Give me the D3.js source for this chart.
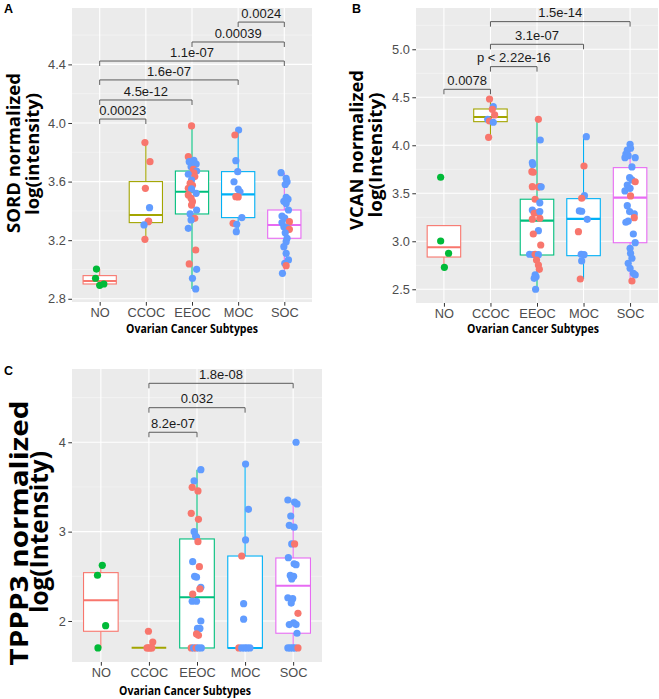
<!DOCTYPE html>
<html><head><meta charset="utf-8">
<script src="https://cdn.jsdelivr.net/npm/d3@7"></script>
<style>body{margin:0;background:#fff}</style>
</head><body><svg id="chart" width="659" height="699"></svg>
<script>
// ---------- DATA ----------
const categories = ["NO","CCOC","EEOC","MOC","SOC"];
// each point: [value, colour group (r/g/b), horizontal jitter in category steps]
const sordNO = [[3.003,"g",-0.07],[2.940,"g",-0.09],[2.892,"g",0.0],[2.901,"g",0.09]];
const sordCCOC = [[3.866,"r",-0.02],[3.736,"r",0.09],[3.554,"r",-0.01],[3.422,"b",0.08],[3.330,"r",0.06],[3.326,"r",0.05],[3.304,"b",-0.04],[3.206,"r",-0.02]];
const sordEEOC = [[3.980,"r",-0.01],[3.770,"r",-0.08],[3.745,"b",0.04],[3.736,"b",-0.06],[3.720,"b",0.09],[3.702,"b",-0.02],[3.684,"r",0.03],[3.672,"b",0.10],[3.660,"r",0.04],[3.650,"b",-0.08],[3.634,"r",0.06],[3.611,"b",-0.01],[3.588,"r",-0.04],[3.575,"r",0.01],[3.554,"r",-0.08],[3.550,"b",-0.01],[3.520,"b",0.09],[3.509,"r",-0.08],[3.486,"r",-0.02],[3.463,"r",0.01],[3.440,"r",-0.01],[3.406,"b",0.10],[3.379,"b",-0.04],[3.349,"r",0.06],[3.338,"b",-0.02],[3.281,"b",-0.08],[3.133,"r",0.08],[3.038,"r",-0.06],[3.001,"b",0.10],[2.940,"b",0.01],[2.867,"b",0.08]];
const sordMOC = [[3.952,"b",0.01],[3.918,"r",-0.07],[3.743,"b",-0.05],[3.668,"b",-0.01],[3.599,"b",-0.09],[3.549,"b",0.0],[3.530,"b",0.04],[3.497,"r",-0.05],[3.495,"r",0.0],[3.354,"b",0.08],[3.315,"r",-0.11],[3.308,"b",-0.03],[3.258,"b",-0.04]];
const sordSOC = [[3.661,"b",-0.07],[3.622,"b",0.04],[3.599,"b",0.06],[3.580,"b",0.02],[3.493,"b",0.04],[3.480,"b",0.08],[3.465,"b",-0.01],[3.450,"b",0.04],[3.406,"b",0.09],[3.365,"b",-0.05],[3.350,"b",0.01],[3.326,"r",0.11],[3.320,"b",-0.05],[3.292,"b",-0.01],[3.285,"b",0.06],[3.274,"r",0.11],[3.250,"b",0.02],[3.213,"b",0.06],[3.190,"b",0.04],[3.156,"b",-0.01],[3.110,"b",0.04],[3.065,"b",0.09],[3.042,"b",0.01],[3.026,"r",0.04],[2.974,"b",-0.04]];
// box stats per category: [lower whisker, Q1, median, Q3, upper whisker]
const sordBox = [[2.892,2.901,2.921,2.958,3.003],[3.206,3.32,3.372,3.60,3.866],[2.867,3.379,3.531,3.672,3.98],[3.258,3.354,3.513,3.668,3.952],[2.974,3.213,3.304,3.406,3.661]];
const sordBrackets = [["NO","CCOC","0.00023",4.027],["NO","EEOC","4.5e-12",4.157],["NO","MOC","1.6e-07",4.294],["NO","SOC","1.1e-07",4.423],["EEOC","SOC","0.00039",4.553],["MOC","SOC","0.0024",4.689]];
const sordTicks = [2.8,3.2,3.6,4.0,4.4];
const sordTickLabels = ["2.8","3.2","3.6","4.0","4.4"];

const vcanNO = [[3.667,"g",-0.07],[3.003,"g",-0.07],[2.875,"g",0.10],[2.729,"g",0.01]];
const vcanCCOC = [[4.482,"r",-0.02],[4.402,"b",0.06],[4.375,"r",0.04],[4.316,"r",0.09],[4.271,"b",-0.06],[4.253,"r",-0.02],[4.240,"b",0.06],[4.083,"r",-0.04]];
const vcanEEOC = [[4.27,"r",0.03],[4.055,"b",0.07],[3.82,"b",-0.10],[3.80,"b",-0.09],[3.725,"r",-0.11],[3.719,"r",-0.08],[3.569,"r",-0.10],[3.565,"r",0.03],[3.57,"r",0.06],[3.567,"b",0.09],[3.438,"r",-0.04],[3.40,"b",0.06],[3.326,"b",-0.10],[3.292,"r",-0.06],[3.30,"r",0.03],[3.31,"b",0.06],[3.23,"r",-0.10],[3.24,"r",0.06],[3.11,"b",0.03],[3.076,"r",-0.08],[2.961,"r",0.08],[2.865,"b",-0.16],[2.862,"b",-0.08],[2.865,"r",-0.04],[2.86,"b",0.03],[2.805,"r",-0.01],[2.753,"r",0.03],[2.708,"r",0.05],[2.649,"b",-0.04],[2.63,"b",-0.02],[2.614,"b",-0.06],[2.50,"b",-0.03]];
const vcanMOC = [[4.09,"b",0.06],[3.784,"r",0.01],[3.475,"b",0.02],[3.448,"r",-0.04],[3.316,"b",-0.09],[3.313,"b",-0.04],[3.229,"b",0.08],[3.10,"r",-0.11],[2.865,"b",-0.05],[2.86,"b",0.01],[2.795,"b",-0.04],[2.607,"r",-0.07]];
const vcanSOC = [[4.01,"b",0],[3.969,"b",0.01],[3.951,"b",-0.06],[3.909,"b",-0.09],[3.892,"b",-0.04],[3.871,"b",-0.11],[3.871,"b",0.11],[3.774,"b",0.04],[3.663,"b",-0.01],[3.639,"b",0.04],[3.62,"r",0.11],[3.586,"b",-0.06],[3.552,"b",0],[3.524,"b",-0.11],[3.472,"r",0.01],[3.371,"b",-0.06],[3.309,"b",-0.01],[3.285,"b",0.09],[3.246,"r",0.09],[3.211,"b",-0.04],[3.198,"b",-0.09],[3.076,"b",0.07],[2.985,"b",0.11],[2.927,"b",0],[2.875,"b",0.01],[2.823,"b",0.04],[2.771,"b",-0.04],[2.719,"b",0],[2.667,"b",0.07],[2.649,"b",0.11],[2.586,"r",0.04]];
const vcanBox = [[2.729,2.836,2.938,3.163,3.163],[4.083,4.246,4.295,4.378,4.482],[2.5,2.857,3.215,3.438,4.27],[2.607,2.85,3.233,3.444,4.09],[2.586,2.985,3.455,3.767,4.01]];
const vcanBrackets = [["NO","CCOC","0.0078",4.583],["CCOC","EEOC","p < 2.22e-16",4.819],["CCOC","MOC","3.1e-07",5.052],["CCOC","SOC","1.5e-14",5.288]];
const vcanTicks = [2.5,3.0,3.5,4.0,4.5,5.0];
const vcanTickLabels = ["2.5","3.0","3.5","4.0","4.5","5.0"];

const tpppNO = [[2.623,"g",0.03],[2.512,"g",-0.07],[1.948,"g",0.10],[1.698,"g",-0.06]];
const tpppCCOC = [[1.885,"r",-0.01],[1.765,"r",0.08],[1.698,"r",-0.04],[1.698,"r",0.03],[1.698,"r",0.06],[1.698,"r",-0.01]];
const tpppEEOC = [[3.693,"b",0.08],[3.567,"b",-0.06],[3.496,"r",-0.10],[3.455,"r",0.02],[3.205,"r",-0.12],[3.138,"r",0.03],[3.0,"b",-0.06],[2.95,"b",-0.03],[2.94,"b",-0.01],[2.888,"r",0.02],[2.664,"b",-0.09],[2.608,"r",0.05],[2.50,"b",-0.05],[2.49,"b",-0.01],[2.377,"b",0.08],[2.359,"r",0.06],[2.30,"r",-0.09],[2.221,"b",-0.10],[2.221,"b",-0.01],[2.0,"b",0.08],[1.917,"b",0.01],[1.917,"b",0.06],[1.855,"r",-0.01],[1.84,"r",0.03],[1.698,"r",-0.12],[1.698,"b",-0.07],[1.698,"r",-0.02],[1.698,"b",0.03],[1.698,"b",0.09]];
const tpppMOC = [[3.757,"b",0.01],[3.25,"b",0.07],[2.907,"b",0.01],[2.727,"r",-0.07],[2.194,"b",-0.03],[2.02,"b",-0.03],[1.698,"r",-0.13],[1.698,"b",-0.07],[1.698,"b",-0.01],[1.698,"b",0.04],[1.698,"b",0.10]];
const tpppSOC = [[4.0,"b",0.06],[3.354,"b",-0.11],[3.33,"b",0.03],[3.31,"b",0.08],[3.175,"b",-0.05],[3.07,"b",-0.08],[3.05,"b",0.02],[2.862,"b",-0.03],[2.862,"r",0.03],[2.709,"b",-0.10],[2.64,"b",0.02],[2.63,"b",0.06],[2.51,"b",-0.06],[2.50,"b",0.01],[2.47,"b",-0.03],[2.26,"b",-0.11],[2.25,"b",-0.01],[2.20,"b",-0.04],[2.086,"r",0.10],[1.98,"b",0.01],[1.96,"b",0.06],[1.96,"b",-0.08],[1.863,"b",0.08],[1.698,"b",-0.11],[1.698,"b",-0.06],[1.698,"b",-0.01],[1.698,"b",0.04],[1.698,"r",0.10]];
const tpppBox = [[1.698,1.885,2.232,2.541,2.623],[1.70,1.70,1.70,1.70,1.70],[1.698,1.698,2.265,2.918,3.693],[1.698,1.698,1.698,2.727,3.757],[1.698,1.863,2.395,2.705,3.354]];
const tpppBrackets = [["CCOC","EEOC","8.2e-07",4.112],["CCOC","MOC","0.032",4.387],["CCOC","SOC","1.8e-08",4.66]];
const tpppTicks = [2,3,4];
const tpppTickLabels = ["2","3","4"];

const xTitle = "Ovarian Cancer Subtypes";

// ---------- STYLE ----------
const pointColors = {r:"#F8766D", g:"#00BA38", b:"#619CFF"};
const boxColors = ["#F8766D","#A3A500","#00BF7D","#00B0F6","#E76BF3"];
const tickFont = "'Liberation Sans', Arial, sans-serif";
const titleFont = "'Open Sans', 'Noto Sans', sans-serif";

const svg = d3.select("#chart");

function drawPanel(cfg){
  const g = svg.append("g");
  const x = d3.scalePoint().domain(categories).range([cfg.x0, cfg.x1]).padding(0.6);
  const y = d3.scaleLinear().domain(cfg.domain).range([cfg.y1, cfg.y0]);
  const step = x.step();

  g.append("rect").attr("x",cfg.x0).attr("y",cfg.y0)
    .attr("width",cfg.x1-cfg.x0).attr("height",cfg.y1-cfg.y0).attr("fill","#EBEBEB");

  // minor grid
  const half = (cfg.ticks[1]-cfg.ticks[0])/2;
  const minor = cfg.ticks.map(t=>t+half).concat([cfg.ticks[0]-half]);
  g.selectAll(".minor").data(minor.filter(v=>v>cfg.domain[0]&&v<cfg.domain[1])).join("line")
    .attr("x1",cfg.x0).attr("x2",cfg.x1).attr("y1",d=>y(d)).attr("y2",d=>y(d))
    .attr("stroke","#F7F7F7").attr("stroke-width",0.6);
  g.selectAll(".major").data(cfg.ticks).join("line")
    .attr("x1",cfg.x0).attr("x2",cfg.x1).attr("y1",d=>y(d)).attr("y2",d=>y(d))
    .attr("stroke","#FFFFFF").attr("stroke-width",1.1);
  g.selectAll(".vmajor").data(categories).join("line")
    .attr("x1",d=>x(d)).attr("x2",d=>x(d)).attr("y1",cfg.y0).attr("y2",cfg.y1)
    .attr("stroke","#FFFFFF").attr("stroke-width",1.1);

  // boxes
  const bw = step*0.72;
  cfg.box.forEach((b,i)=>{
    const cx = x(categories[i]); const col = boxColors[i];
    g.append("line").attr("x1",cx).attr("x2",cx).attr("y1",y(b[0])).attr("y2",y(b[1]))
      .attr("stroke",col).attr("stroke-width",1.1);
    g.append("line").attr("x1",cx).attr("x2",cx).attr("y1",y(b[3])).attr("y2",y(b[4]))
      .attr("stroke",col).attr("stroke-width",1.1);
    g.append("rect").attr("x",cx-bw/2).attr("width",bw)
      .attr("y",y(b[3])).attr("height",Math.max(0,y(b[1])-y(b[3])))
      .attr("fill","#FFFFFF").attr("stroke",col).attr("stroke-width",1.1);
    g.append("line").attr("x1",cx-bw/2).attr("x2",cx+bw/2).attr("y1",y(b[2])).attr("y2",y(b[2]))
      .attr("stroke",col).attr("stroke-width",2.1);
  });

  // points
  cfg.points.forEach((pts,i)=>{
    const cx = x(categories[i]);
    g.selectAll(null).data(pts).join("circle")
      .attr("cx",d=>cx + d[2]*step).attr("cy",d=>y(d[0])).attr("r",3.6)
      .attr("fill",d=>pointColors[d[1]]);
  });

  // brackets
  cfg.brackets.forEach(br=>{
    const xa = x(br[0]), xb = x(br[1]), yy = y(br[3]);
    g.append("path").attr("d",`M${xa},${yy+5}V${yy}H${xb}V${yy+5}`)
      .attr("fill","none").attr("stroke","#5A5A5A").attr("stroke-width",1);
    g.append("text").attr("x",(xa+xb)/2).attr("y",yy-4.3).attr("text-anchor","middle")
      .attr("font-family",tickFont).attr("font-size",13).attr("fill","#1A1A1A").text(br[2]);
  });

  // axes
  const ya = d3.axisLeft(y).tickValues(cfg.ticks).tickFormat((d,i)=>cfg.tickLabels[i]).tickSize(3.7).tickPadding(2.5);
  const ag = g.append("g").attr("transform",`translate(${cfg.x0},0)`).call(ya);
  const xa = d3.axisBottom(x).tickSize(3.7).tickPadding(2.5);
  const bg = g.append("g").attr("transform",`translate(0,${cfg.y1})`).call(xa);
  [ag,bg].forEach(a=>{
    a.select(".domain").remove();
    a.selectAll(".tick line").attr("stroke","#333333").attr("stroke-width",1);
    a.selectAll(".tick text").attr("fill","#4D4D4D").attr("font-family",tickFont).attr("font-size",12.8);
  });

  // titles
  g.append("text").attr("x",cfg.xt[0]).attr("y",cfg.xt[1]).attr("text-anchor","middle")
    .attr("font-family",titleFont).attr("font-weight",700).attr("font-size",12.5)
    .attr("textLength",132).attr("lengthAdjust","spacingAndGlyphs").attr("fill","#000").text(xTitle);
  cfg.yt.forEach(t=>{
    g.append("text").attr("transform",`translate(${t.x},${t.cy}) rotate(-90)`)
      .attr("text-anchor","middle").attr("font-family",titleFont).attr("font-weight",700)
      .attr("font-size",t.fs).attr("textLength",t.len).attr("lengthAdjust","spacingAndGlyphs")
      .attr("fill","#000").text(t.text);
  });
  svg.append("text").attr("x",cfg.lab[0]).attr("y",cfg.lab[1]).attr("font-family",tickFont)
    .attr("font-weight",700).attr("font-size",12.5).attr("fill","#000").text(cfg.label);
}

drawPanel({label:"A", lab:[4,13], x0:72, x1:312, y0:8, y1:302, domain:[2.778,4.785],
  points:[sordNO,sordCCOC,sordEEOC,sordMOC,sordSOC], box:sordBox, brackets:sordBrackets,
  ticks:sordTicks, tickLabels:sordTickLabels, xt:[192,333],
  yt:[{text:"SORD normalized",x:20,cy:153,fs:18.4,len:160},{text:"log(intensity)",x:38.5,cy:154,fs:18.4,len:122}]});
drawPanel({label:"B", lab:[352,13], x0:416, x1:658, y0:8, y1:303, domain:[2.357,5.430],
  points:[vcanNO,vcanCCOC,vcanEEOC,vcanMOC,vcanSOC], box:vcanBox, brackets:vcanBrackets,
  ticks:vcanTicks, tickLabels:vcanTickLabels, xt:[533,333],
  yt:[{text:"VCAN normalized",x:363,cy:150,fs:18.4,len:160},{text:"log(Intensity)",x:382,cy:155,fs:18.4,len:125}]});
drawPanel({label:"C", lab:[4,375], x0:72, x1:322, y0:369, y1:662, domain:[1.541,4.820],
  points:[tpppNO,tpppCCOC,tpppEEOC,tpppMOC,tpppSOC], box:tpppBox, brackets:tpppBrackets,
  ticks:tpppTicks, tickLabels:tpppTickLabels, xt:[185,695],
  yt:[{text:"TPPP3 normalized",x:27.5,cy:533,fs:25,len:265},{text:"log(Intensity)",x:48,cy:532,fs:25,len:162}]});
</script></body></html>
